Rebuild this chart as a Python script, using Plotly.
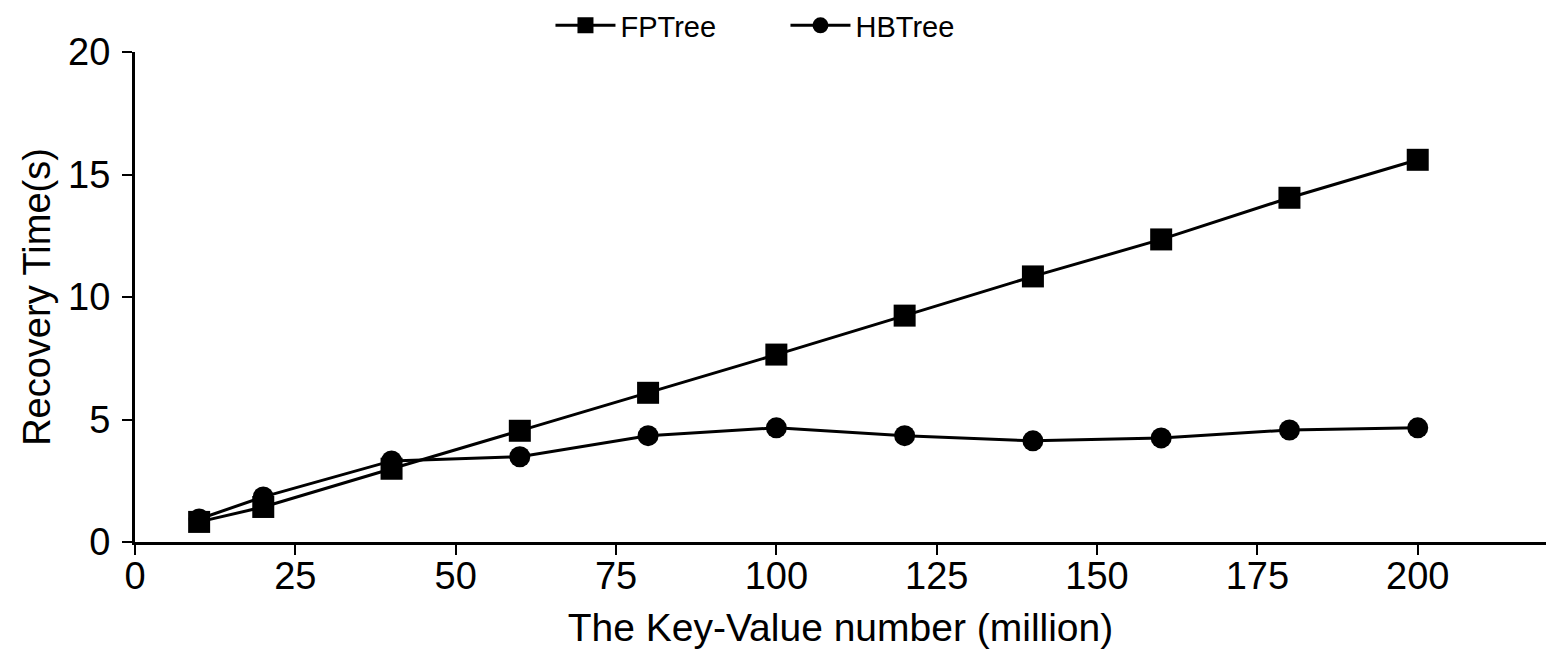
import plotly.graph_objects as go

x_vals = [10, 20, 40, 60, 80, 100, 120, 140, 160, 180, 200]
fptree = [0.82, 1.43, 2.99, 4.54, 6.09, 7.65, 9.24, 10.84, 12.35, 14.05, 15.60]
hbtree = [0.94, 1.84, 3.31, 3.48, 4.34, 4.66, 4.34, 4.13, 4.25, 4.57, 4.66]
x_ticks = [0, 25, 50, 75, 100, 125, 150, 175, 200]
y_ticks = [0, 5, 10, 15, 20]

fig = go.Figure()
fig.add_trace(go.Scatter(x=x_vals, y=fptree, name="FPTree", mode="lines+markers",
                         line=dict(color="black", width=3),
                         marker=dict(symbol="square", size=22, color="black")))
fig.add_trace(go.Scatter(x=x_vals, y=hbtree, name="HBTree", mode="lines+markers",
                         line=dict(color="black", width=3),
                         marker=dict(symbol="circle", size=21, color="black")))

axis_common = dict(showline=True, linecolor="black", linewidth=3, ticks="outside",
                   tickwidth=2, ticklen=10, tickcolor="black", showgrid=False,
                   zeroline=False, tickfont=dict(size=38, color="black"))
fig.update_xaxes(range=[0, 220], tickvals=x_ticks, ticklabelstandoff=-12,
                 title=dict(text="The Key-Value number (million)", font=dict(size=39, color="black"), standoff=20),
                 **axis_common)
fig.update_yaxes(range=[0, 20], tickvals=y_ticks, ticklabelstandoff=4,
                 title=dict(text="Recovery Time(s)", font=dict(size=38, color="black"), standoff=6),
                 **axis_common)
fig.update_layout(
    width=1559, height=649,
    margin=dict(l=135, r=13, t=52, b=107, autoexpand=False),
    plot_bgcolor="white", paper_bgcolor="white",
    font=dict(family="Liberation Sans, Arial, sans-serif", color="black"),
    legend=dict(orientation="h", x=0.461, xanchor="center", y=1.0, yanchor="top",
                yref="container", font=dict(size=29), itemwidth=60,
                entrywidth=160, entrywidthmode="pixels"),
    showlegend=True,
)
fig.write_html("out.html")
